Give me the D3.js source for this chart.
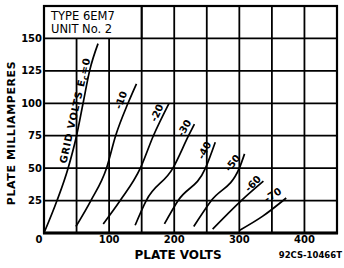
<!DOCTYPE html>
<html>
<head>
<meta charset="utf-8">
<script src="https://cdn.jsdelivr.net/npm/d3@7"></script>
<style>
  body { margin: 0; background: #fff; }
  text { font-family: "DejaVu Sans", sans-serif; fill: #000; }
</style>
</head>
<body>
<div id="chart"></div>
<script>
// plate characteristics, 6EM7 unit 2  (plate volts, plate mA)
const ec0  = [[0, 0], [20, 25], [37, 50], [50, 75], [60, 100], [70, 125], [83, 146]];
const ec10 = [[49, 5], [72, 25], [96, 50], [110, 75], [129, 100], [142, 115]];
const ec20 = [[91, 7], [117, 25], [148, 50], [168, 75], [192, 100]];
const ec30 = [[140, 6], [157, 25], [198, 50], [222, 75], [231, 84]];
const ec40 = [[185, 7], [206, 25], [248, 50], [263, 70]];
const ec50 = [[230, 5], [257, 25], [300, 50], [308, 61]];
const ec60 = [[259, 3], [303, 25], [337, 40]];
const ec70 = [[300, 2], [336, 13], [372, 27]];
const curves = [ec0, ec10, ec20, ec30, ec40, ec50, ec60, ec70];

const curveLabels = ['-10', '-20', '-30', '-40', '-50', '-60', '-70'];
// where each label sits (volts, mA) and its tilt
const labelAt = [[121, 102], [176, 92], [218, 80], [249, 63], [292, 53], [323, 37], [353, 28]];
const labelTilt = [-70, -65, -60, -64, -52, -45, -33];

const xTicks = [0, 100, 200, 300, 400];
const yTicks = [25, 50, 75, 100, 125, 150];

const width = 344, height = 268;

const svg = d3.select('#chart').append('svg')
    .attr('width', width)
    .attr('height', height);

const x = d3.scaleLinear().domain([0, 450]).range([44, 337]);
const y = d3.scaleLinear().domain([0, 175]).range([233, 6]);

const grid = svg.append('g').attr('stroke', '#000').attr('stroke-width', 1.8);

// vertical grid, the first two stop under the title box
d3.range(50, 450, 50).forEach(v => {
    grid.append('line')
        .attr('x1', x(v)).attr('x2', x(v))
        .attr('y1', y(0)).attr('y2', v < 150 ? y(150) : y(175));
});
d3.range(25, 175, 25).forEach(i => {
    grid.append('line')
        .attr('x1', x(0)).attr('x2', x(450))
        .attr('y1', y(i)).attr('y2', y(i));
});
grid.append('line')
    .attr('x1', x(150)).attr('x2', x(150))
    .attr('y1', y(150)).attr('y2', y(175));

// frame
svg.append('rect')
    .attr('x', x(0)).attr('y', y(175))
    .attr('width', x(450) - x(0)).attr('height', y(0) - y(175))
    .attr('fill', 'none').attr('stroke', '#000').attr('stroke-width', 2.2);
svg.append('line')
    .attr('x1', x(0) - 1).attr('x2', x(450) + 1)
    .attr('y1', y(0)).attr('y2', y(0))
    .attr('stroke', '#000').attr('stroke-width', 3);

// title box
svg.append('text').attr('x', x(0) + 7).attr('y', 20)
    .attr('font-size', 11.5).text('TYPE  6EM7');
svg.append('text').attr('x', x(0) + 7).attr('y', 33)
    .attr('font-size', 11.5).text('UNIT No. 2');

// curves
const line = d3.line()
    .x(d => x(d[0]))
    .y(d => y(d[1]))
    .curve(d3.curveMonotoneX);

svg.append('g').selectAll('path')
    .data(curves)
    .join('path')
    .attr('d', line)
    .attr('fill', 'none')
    .attr('stroke', '#000')
    .attr('stroke-width', 1.7);

// curve labels
svg.append('g').selectAll('text')
    .data(curveLabels)
    .join('text')
    .attr('transform', (d, i) => `translate(${x(labelAt[i][0])},${y(labelAt[i][1])}) rotate(${labelTilt[i]}) translate(0,-2)`)
    .attr('text-anchor', 'middle')
    .attr('dy', '0.35em')
    .attr('font-size', 10)
    .attr('font-weight', 'bold')
    .text(d => d);

const ecLabel = svg.append('text')
    .attr('transform', `translate(${x(47.5)},${y(94.5)}) rotate(-77)`)
    .attr('text-anchor', 'middle')
    .attr('dy', '0.35em')
    .attr('font-size', 10)
    .attr('font-weight', 'bold')
    .attr('letter-spacing', 0.8);
ecLabel.append('tspan').text('GRID VOLTS E');
ecLabel.append('tspan').attr('font-size', 7.5).attr('dy', 2).text('c');
ecLabel.append('tspan').attr('dy', -2).text('=0');

// tick labels
svg.append('g').selectAll('text')
    .data(xTicks)
    .join('text')
    .attr('x', d => d === 0 ? x(d) - 5 : x(d))
    .attr('y', 243)
    .attr('text-anchor', 'middle')
    .attr('font-size', 10)
    .attr('font-weight', 'bold')
    .text(d => d);

svg.append('g').selectAll('text')
    .data(yTicks)
    .join('text')
    .attr('x', x(0) - 2)
    .attr('y', d => y(d))
    .attr('dy', '0.35em')
    .attr('text-anchor', 'end')
    .attr('font-size', 10)
    .attr('font-weight', 'bold')
    .text(d => d);

// axis titles
svg.append('text')
    .attr('x', 178).attr('y', 259)
    .attr('text-anchor', 'middle')
    .attr('font-size', 12)
    .attr('font-weight', 'bold')
    .text('PLATE  VOLTS');

svg.append('text')
    .attr('transform', 'translate(15,133) rotate(-90)')
    .attr('text-anchor', 'middle')
    .attr('font-size', 11)
    .attr('font-weight', 'bold')
    .attr('letter-spacing', 0.6)
    .text('PLATE MILLIAMPERES');

svg.append('text')
    .attr('x', 342).attr('y', 258)
    .attr('text-anchor', 'end')
    .attr('font-size', 8.5)
    .attr('font-weight', 'bold')
    .text('92CS-10466T');
</script>
</body>
</html>
